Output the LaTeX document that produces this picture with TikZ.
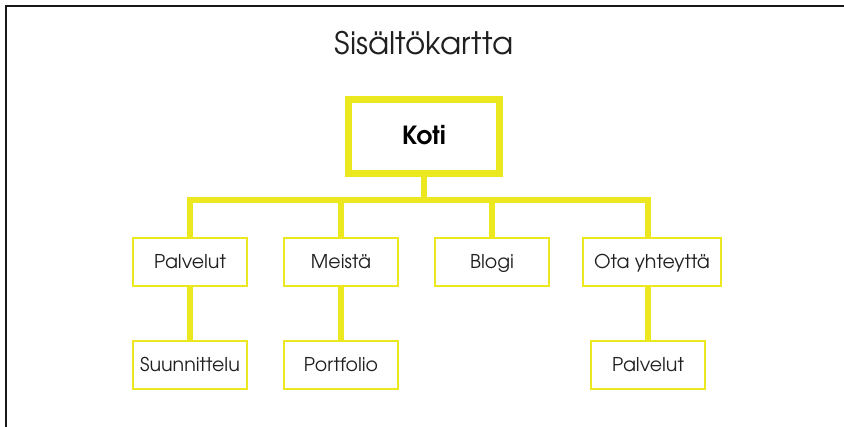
\documentclass[tikz,border=0pt]{standalone}
\usepackage{fontspec}
\setmainfont{texgyreadventor}[Extension=.otf,UprightFont=*-regular,BoldFont=*-bold]
\definecolor{mapyellow}{RGB}{236,232,32}
\definecolor{labelgray}{RGB}{32,32,32}
\begin{document}
\begin{tikzpicture}[x=1pt,y=-1pt,
  topbox/.style={draw=mapyellow,line width=7pt,minimum width=151pt,minimum height=74pt,
    inner sep=0pt,text height=17pt,text depth=0pt,
    font=\fontsize{25}{28}\selectfont\bfseries,text=black},
  pagebox/.style={draw=mapyellow,line width=2pt,minimum width=114pt,minimum height=48pt,
    inner sep=0pt,text height=14pt,text depth=1.5pt,
    font=\fontsize{19}{22}\selectfont,text=labelgray},
  link/.style={draw=mapyellow,line width=6pt}]
\useasboundingbox (0,0) rectangle (844,427);
\fill[white] (0,0) rectangle (844,427);
% page frame (left and top edges)
\draw[line width=2pt,black!90] (5.5,427) -- (5.5,6) -- (844,6);

% title
\node[font=\fontsize{31}{34}\selectfont,text=labelgray,text height=23pt,text depth=0pt,
  inner sep=0pt,anchor=base] (title) at (424,55) {Sisältökartta};

% hierarchy
\node[topbox] (koti) at (424,136.5) {Koti};
\node[pagebox] (palv) at (190,262) {Palvelut};
\node[pagebox] (meis) at (341,262) {Meistä};
\node[pagebox] (blog) at (492,262) {Blogi};
\node[pagebox,minimum width=138pt] (ota) at (652,262) {Ota yhteyttä};
\node[pagebox] (suun) at (190,365) {Suunnittelu};
\node[pagebox] (port) at (341,365) {Portfolio};
\node[pagebox] (pal2) at (648,365) {Palvelut};

\coordinate (bus) at (424,200);
\draw[link] (koti.south) -- (koti.south |- bus);
\draw[link] (palv.north) |- (bus -| pal2) -- (pal2 |- ota.north);
\draw[link] (meis.north) -- (meis.north |- bus);
\draw[link] (blog.north) -- (blog.north |- bus);
\draw[link] (palv.south) -- (suun.north);
\draw[link] (meis.south) -- (port.north);
\draw[link] (pal2 |- ota.south) -- (pal2.north);
\end{tikzpicture}
\end{document}
